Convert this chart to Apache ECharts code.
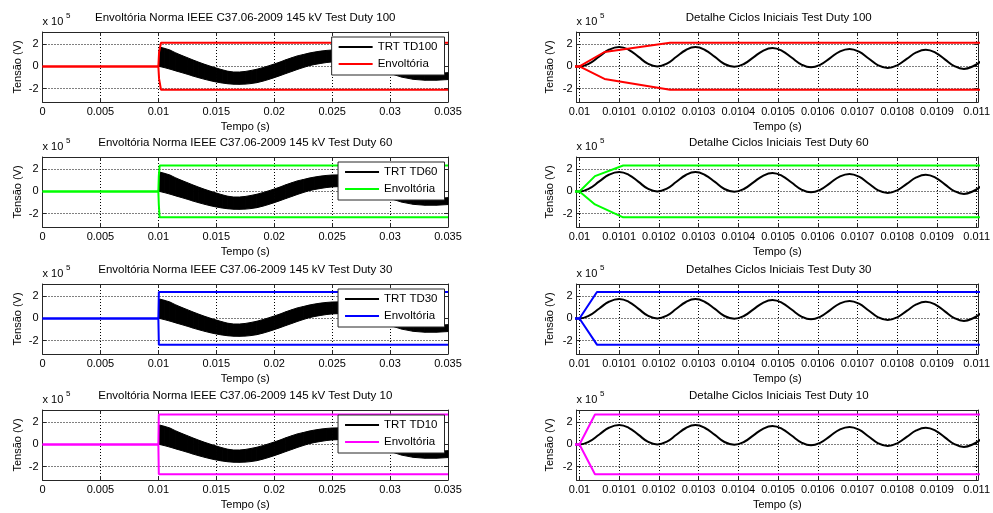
<!DOCTYPE html>
<html>
<head>
<meta charset="utf-8">
<script src="https://cdn.jsdelivr.net/npm/echarts@6/dist/echarts.min.js"></script>
<style>
  html, body { margin: 0; padding: 0; background: #ffffff; }
  #chart { width: 993px; height: 513px; }
</style>
</head>
<body>
<div id="chart"></div>
<script>
// Time in seconds, voltage in units of 1e5 V (each panel shows the "x 10^5" multiplier).

// Tick labels
const overviewTicks = [0, 0.005, 0.01, 0.015, 0.02, 0.025, 0.03, 0.035];
const detailTicks = [0.01, 0.0101, 0.0102, 0.0103, 0.0104, 0.0105, 0.0106, 0.0107, 0.0108, 0.0109, 0.011];
const voltTicks = [-2, 0, 2];

// Test duties and their titles
const testDuties = ['100', '60', '30', '10'];
const overviewTitles = [
  'Envoltória Norma IEEE C37.06-2009 145 kV Test Duty 100',
  'Envoltória Norma IEEE C37.06-2009 145 kV Test Duty 60',
  'Envoltória Norma IEEE C37.06-2009 145 kV Test Duty 30',
  'Envoltória Norma IEEE C37.06-2009 145 kV Test Duty 10'
];
const detailTitles = [
  'Detalhe Ciclos Iniciais Test Duty 100',
  'Detalhe Ciclos Iniciais Test Duty 60',
  'Detalhes Ciclos Iniciais Test Duty 30',
  'Detalhe Ciclos Iniciais Test Duty 10'
];

// Transient recovery voltage, full window: upper and lower edge of the
// fast oscillation riding on the power-frequency component
const trtBandTime = [0.0100, 0.0101, 0.0105, 0.0110, 0.0115, 0.0120, 0.0125, 0.0130, 0.0135, 0.0140,
  0.0145, 0.0150, 0.0155, 0.0160, 0.0165, 0.0170, 0.0175, 0.0180, 0.0185, 0.0190,
  0.0195, 0.0200, 0.0205, 0.0210, 0.0215, 0.0220, 0.0225, 0.0230, 0.0235, 0.0240,
  0.0245, 0.0250, 0.0255, 0.0260, 0.0270, 0.0280, 0.0290, 0.0300, 0.0310, 0.0320,
  0.0330, 0.0340, 0.0350];
const trtBandUpper = [0.00, 1.75, 1.64, 1.48, 1.22, 1.00, 0.79, 0.58, 0.38, 0.19,
  0.02, -0.14, -0.30, -0.43, -0.50, -0.50, -0.45, -0.36, -0.25, -0.11,
  0.05, 0.22, 0.40, 0.60, 0.78, 0.95, 1.07, 1.20, 1.30, 1.38,
  1.44, 1.48, 1.49, 1.46, 1.33, 1.06, 0.68, 0.25, -0.18, -0.48,
  -0.62, -0.62, -0.56];
const trtBandLower = [0.00, 0.00, -0.10, -0.24, -0.40, -0.55, -0.70, -0.87, -1.02, -1.16,
  -1.29, -1.40, -1.49, -1.56, -1.60, -1.61, -1.59, -1.54, -1.46, -1.33,
  -1.18, -1.01, -0.83, -0.64, -0.46, -0.27, -0.10, 0.06, 0.18, 0.27,
  0.35, 0.41, 0.43, 0.42, 0.30, 0.06, -0.27, -0.63, -0.96, -1.16,
  -1.24, -1.24, -1.18];

// Transient recovery voltage, first millisecond after current zero
const trtDetailTime = [0.00990, 0.01000, 0.010024, 0.010050, 0.010074, 0.010100, 0.010124, 0.010148, 0.010172, 0.010196,
  0.010220, 0.010244, 0.010268, 0.010292, 0.010316, 0.010341, 0.010365, 0.010390, 0.010414, 0.010438,
  0.010462, 0.010486, 0.010510, 0.010534, 0.010559, 0.010583, 0.010607, 0.010631, 0.010655, 0.010680,
  0.010704, 0.010728, 0.010752, 0.010776, 0.010800, 0.010824, 0.010848, 0.010872, 0.010896, 0.010920,
  0.010944, 0.010968, 0.010992, 0.011010];
const trtDetailVolt = [0.00, 0.00, 0.25, 0.90, 1.50, 1.75, 1.50, 0.88, 0.25, 0.00,
  0.25, 0.87, 1.48, 1.74, 1.48, 0.86, 0.22, -0.03, 0.22, 0.82,
  1.41, 1.66, 1.41, 0.80, 0.17, -0.08, 0.17, 0.75, 1.34, 1.58,
  1.33, 0.72, 0.10, -0.14, 0.10, 0.68, 1.26, 1.50, 1.25, 0.64,
  0.03, -0.22, 0.04, 0.45];

// IEEE C37.06-2009 envelopes, one per test duty
const env100Time = [0, 0.0100, 0.010063, 0.010228, 0.035];
const env100Upper = [0, 0, 1.30, 2.13, 2.13];
const env100Lower = [0, 0, -1.12, -2.10, -2.10];

const env60Time = [0, 0.0100, 0.010039, 0.010110, 0.035];
const env60Upper = [0, 0, 1.38, 2.33, 2.33];
const env60Lower = [0, 0, -1.17, -2.33, -2.33];

const env30Time = [0, 0.0100, 0.010044, 0.035];
const env30Upper = [0, 0, 2.38, 2.38];
const env30Lower = [0, 0, -2.36, -2.36];

const env10Time = [0, 0.0100, 0.010039, 0.035];
const env10Upper = [0, 0, 2.70, 2.70];
const env10Lower = [0, 0, -2.69, -2.69];

const envelopes = [
  { time: env100Time, upper: env100Upper, lower: env100Lower },
  { time: env60Time, upper: env60Upper, lower: env60Lower },
  { time: env30Time, upper: env30Upper, lower: env30Lower },
  { time: env10Time, upper: env10Upper, lower: env10Lower }
];

// ---- styling and layout ----
const FONT = '"Liberation Sans", Arial, Helvetica, sans-serif';
const AXIS_COLOR = '#262626';
const envColors = ['#ff0000', '#00ff00', '#0000ff', '#ff00ff'];
const panelTops = [32, 157, 284, 410];
const panelHeight = 70;
const columns = [
  { left: 42.5, width: 405.5, xMin: 0, xMax: 0.035, ticks: overviewTicks, split: 7, yNameGap: 19 },
  { left: 576.5, width: 404.5, xMin: 0.0099925, xMax: 0.0110038, ticks: detailTicks, split: 10, yNameGap: 21 }
];
const yRange = [-3.2, 3.1];

const grids = [], xAxes = [], yAxes = [], series = [], legends = [], graphics = [];

function fmtTime(v) { return String(+v.toFixed(4)); }

function addPanel(row, col) {
  const c = columns[col];
  const top = panelTops[row];
  const gi = grids.length;
  grids.push({ left: c.left, top: top, width: c.width, height: panelHeight, show: false });

  const tickBase = { show: true, inside: true, length: 4, lineStyle: { color: AXIS_COLOR, width: 1 } };
  const lineBase = { show: true, onZero: false, lineStyle: { color: AXIS_COLOR, width: 1 } };
  const labelText = { color: '#000', fontSize: 11, fontFamily: FONT };

  // bottom x axis with labels and grid, top x axis as the box edge
  xAxes.push({
    type: 'value', gridIndex: gi, position: 'bottom', min: c.xMin, max: c.xMax, splitNumber: c.split,
    axisLine: lineBase,
    axisTick: Object.assign({ customValues: c.ticks }, tickBase),
    axisLabel: Object.assign({ customValues: c.ticks, margin: 4, formatter: fmtTime, hideOverlap: false }, labelText),
    splitLine: { show: true, lineStyle: { color: '#000', width: 1, type: [1, 2] } },
    name: 'Tempo (s)', nameLocation: 'middle', nameGap: 19, nameTextStyle: labelText
  });
  xAxes.push({
    type: 'value', gridIndex: gi, position: 'top', min: c.xMin, max: c.xMax, splitNumber: c.split,
    axisLine: lineBase,
    axisTick: Object.assign({ customValues: c.ticks }, tickBase),
    axisLabel: { show: false }, splitLine: { show: false }
  });
  yAxes.push({
    type: 'value', gridIndex: gi, position: 'left', min: yRange[0], max: yRange[1], splitNumber: 3,
    axisLine: lineBase,
    axisTick: Object.assign({ customValues: voltTicks }, tickBase),
    axisLabel: Object.assign({ customValues: voltTicks, margin: 4, formatter: v => String(Math.round(v)) }, labelText),
    splitLine: { show: true, lineStyle: { color: '#000', width: 1, type: [1, 2] } },
    name: 'Tensão (V)', nameLocation: 'middle', nameGap: c.yNameGap, nameTextStyle: labelText
  });
  yAxes.push({
    type: 'value', gridIndex: gi, position: 'right', min: yRange[0], max: yRange[1], splitNumber: 3,
    axisLine: lineBase,
    axisTick: Object.assign({ customValues: voltTicks }, tickBase),
    axisLabel: { show: false }, splitLine: { show: false }
  });

  const xi = 2 * gi, yi = 2 * gi;
  const duty = testDuties[row];
  const env = envelopes[row];
  const color = envColors[row];

  if (col === 0) {
    // dense oscillation drawn as a filled band between its edges
    series.push({
      type: 'custom', name: 'TRT TD' + duty, xAxisIndex: xi, yAxisIndex: yi,
      coordinateSystem: 'cartesian2d', itemStyle: { color: '#000' }, silent: true,
      encode: { x: 0, y: [1, 2] },
      data: trtBandTime.map((t, i) => [t, trtBandUpper[i], trtBandLower[i]]),
      renderItem: function (params, api) {
        const i = params.dataIndex;
        if (i >= trtBandTime.length - 1) return null;
        const pts = [
          api.coord([api.value(0, i), api.value(1, i)]),
          api.coord([api.value(0, i + 1), api.value(1, i + 1)]),
          api.coord([api.value(0, i + 1), api.value(2, i + 1)]),
          api.coord([api.value(0, i), api.value(2, i)])
        ];
        return { type: 'polygon', shape: { points: pts }, style: { fill: '#000', stroke: '#000', lineWidth: 1 } };
      }
    });
  } else {
    series.push({
      type: 'line', name: 'trt-detail-' + duty, xAxisIndex: xi, yAxisIndex: yi,
      data: trtDetailTime.map((t, i) => [t, trtDetailVolt[i]]),
      smooth: 0.45, showSymbol: false, symbol: 'none', silent: true,
      lineStyle: { color: '#000', width: 2 }, itemStyle: { color: '#000' }
    });
  }
  const envName = col === 0 ? 'Envoltória#' + duty : 'env-detail-' + duty;
  ['upper', 'lower'].forEach(side => {
    series.push({
      type: 'line', name: envName, xAxisIndex: xi, yAxisIndex: yi,
      data: env.time.map((t, i) => [t, env[side][i]]),
      showSymbol: false, symbol: 'none', silent: true,
      lineStyle: { color: color, width: 2 }, itemStyle: { color: color }
    });
  });

  // panel title and exponent label
  const cx = c.left + c.width / 2;
  graphics.push({
    type: 'text', x: cx, y: top - 14, silent: true,
    style: { text: col === 0 ? overviewTitles[row] : detailTitles[row], fill: '#000',
      font: '11.5px ' + FONT, align: 'center', verticalAlign: 'middle' }
  });
  graphics.push({
    type: 'text', x: c.left, y: top - 10.5, silent: true,
    style: { text: 'x 10', fill: '#000', font: '11px ' + FONT, align: 'left', verticalAlign: 'middle' }
  });
  graphics.push({
    type: 'text', x: c.left + 23.5, y: top - 16.5, silent: true,
    style: { text: '5', fill: '#000', font: '8px ' + FONT, align: 'left', verticalAlign: 'middle' }
  });

  if (col === 0) {
    legends.push({
      data: ['TRT TD' + duty, 'Envoltória#' + duty],
      formatter: n => n.split('#')[0],
      orient: 'vertical', right: 993 - 444.5, top: top + 5,
      icon: 'rect', itemWidth: 34, itemHeight: 2, itemGap: 5,
      padding: [4, 7, 5, 7], selectedMode: false,
      backgroundColor: '#ffffff', borderColor: AXIS_COLOR, borderWidth: 1, borderRadius: 0,
      textStyle: { color: '#000', fontSize: 11.5, fontFamily: FONT, lineHeight: 12 }
    });
  }
}

for (let r = 0; r < 4; r++) { addPanel(r, 0); addPanel(r, 1); }

const chart = echarts.init(document.getElementById('chart'), null, { renderer: 'canvas' });
chart.setOption({
  animation: false,
  backgroundColor: '#ffffff',
  textStyle: { fontFamily: FONT },
  grid: grids, xAxis: xAxes, yAxis: yAxes,
  legend: legends, series: series, graphic: graphics
});
</script>
</body>
</html>
